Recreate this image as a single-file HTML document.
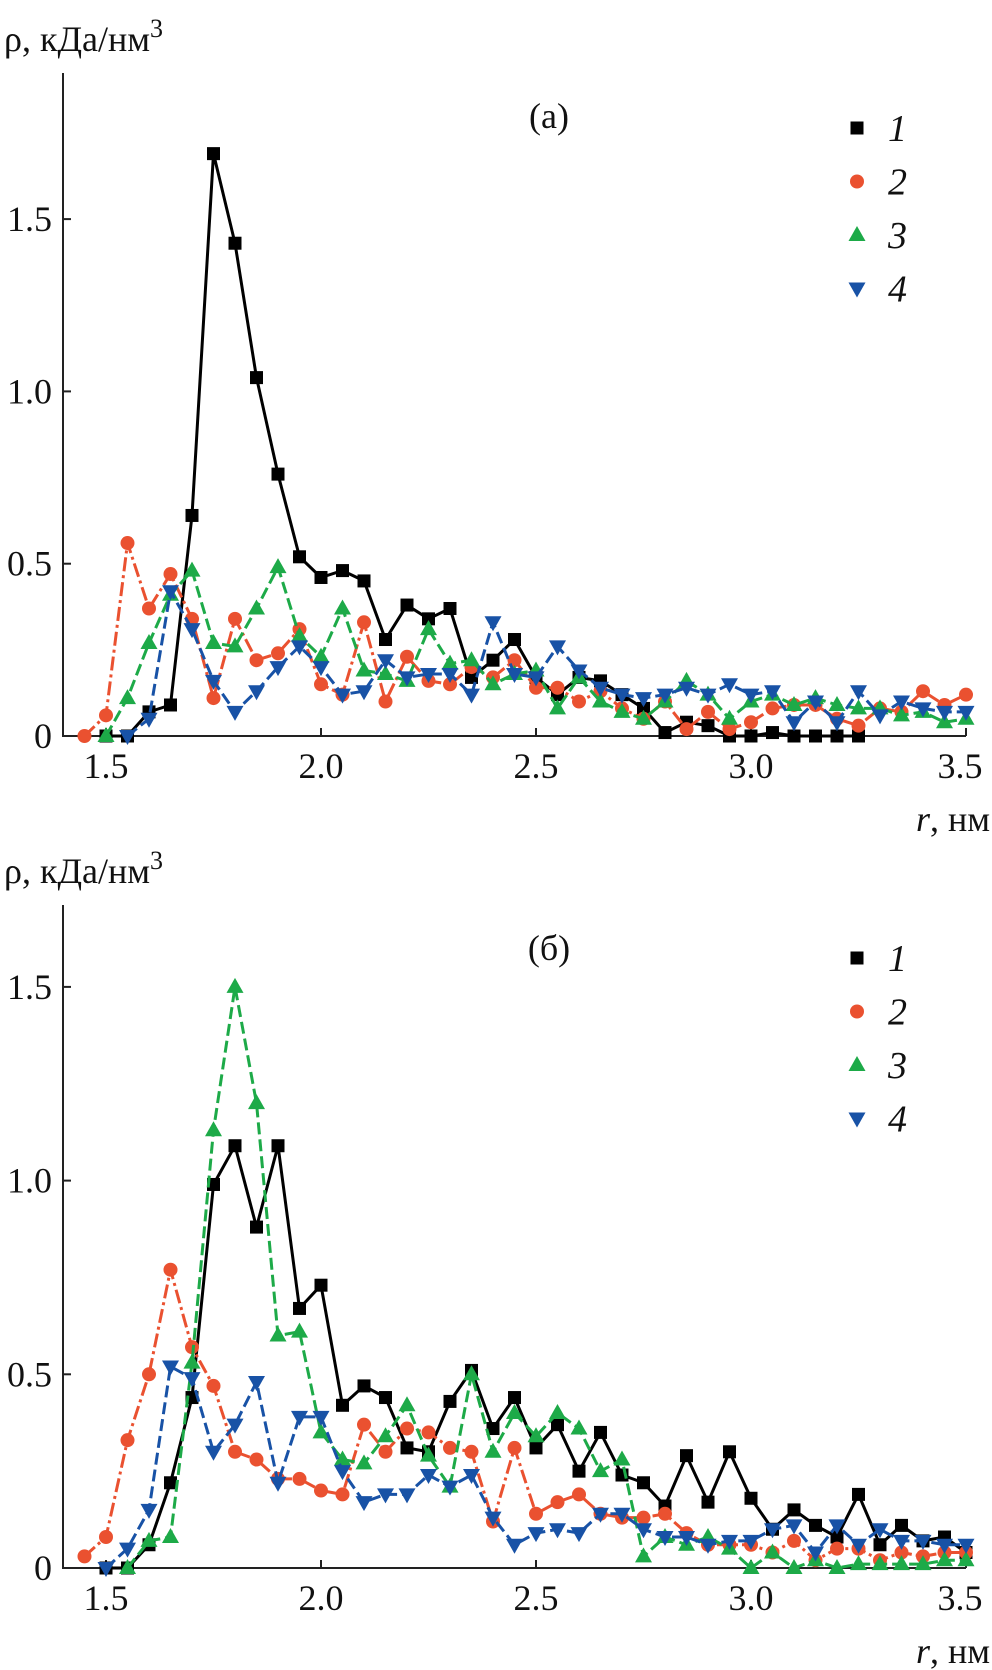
<!DOCTYPE html>
<html><head><meta charset="utf-8"><style>
html,body{margin:0;padding:0;background:#fff}
svg{display:block;font-family:"Liberation Serif","DejaVu Serif",serif}
text{font-family:"Liberation Serif","DejaVu Serif",serif;fill:#111}
</style></head><body>
<svg id="fig" width="992" height="1670" viewBox="0 0 992 1670" font-family="Liberation Serif, DejaVu Serif, serif"></svg>
<script>
const rVals=[1.45,1.5,1.55,1.6,1.65,1.7,1.75,1.8,1.85,1.9,1.95,2.0,2.05,2.1,2.15,2.2,2.25,2.3,2.35,2.4,2.45,2.5,2.55,2.6,2.65,2.7,2.75,2.8,2.85,2.9,2.95,3.0,3.05,3.1,3.15,3.2,3.25,3.3,3.35,3.4,3.45,3.5];
const xTicks=[1.5,2.0,2.5,3.0,3.5];
const xTickLabels=["1.5","2.0","2.5","3.0","3.5"];
const yTicks=[0,0.5,1.0,1.5];
const yTickLabels=["0","0.5","1.0","1.5"];
const seriesNames=["1","2","3","4"];
const a1=[null,0,0,0.07,0.09,0.64,1.69,1.43,1.04,0.76,0.52,0.46,0.48,0.45,0.28,0.38,0.34,0.37,0.17,0.22,0.28,0.17,0.12,0.17,0.16,0.12,0.08,0.01,0.04,0.03,0,0,0.01,0,0,0,0,null,null,null,null,null];
const a2=[0,0.06,0.56,0.37,0.47,0.34,0.11,0.34,0.22,0.24,0.31,0.15,0.12,0.33,0.10,0.23,0.16,0.15,0.20,0.17,0.22,0.14,0.14,0.10,0.13,0.08,0.05,0.10,0.02,0.07,0.02,0.04,0.08,0.09,0.09,0.05,0.03,0.08,0.07,0.13,0.09,0.12];
const a3=[null,0,0.11,0.27,0.41,0.48,0.27,0.26,0.37,0.49,0.29,0.23,0.37,0.19,0.18,0.16,0.31,0.21,0.22,0.15,0.18,0.19,0.08,0.17,0.10,0.07,0.05,0.10,0.16,0.12,0.05,0.10,0.12,0.09,0.11,0.09,0.08,0.08,0.06,0.07,0.04,0.05];
const a4=[null,null,0,0.05,0.42,0.31,0.16,0.07,0.13,0.20,0.26,0.20,0.12,0.13,0.22,0.17,0.18,0.18,0.12,0.33,0.18,0.17,0.26,0.19,0.14,0.12,0.11,0.12,0.14,0.12,0.15,0.12,0.13,0.04,0.10,0.04,0.13,0.06,0.10,0.08,0.07,0.07];
const b1=[null,0,0,0.06,0.22,0.44,0.99,1.09,0.88,1.09,0.67,0.73,0.42,0.47,0.44,0.31,0.30,0.43,0.51,0.36,0.44,0.31,0.37,0.25,0.35,0.24,0.22,0.16,0.29,0.17,0.30,0.18,0.10,0.15,0.11,0.08,0.19,0.06,0.11,0.07,0.08,0.04];
const b2=[0.03,0.08,0.33,0.50,0.77,0.57,0.47,0.30,0.28,0.23,0.23,0.20,0.19,0.37,0.30,0.36,0.35,0.31,0.30,0.12,0.31,0.14,0.17,0.19,0.14,0.13,0.13,0.14,0.09,0.06,0.06,0.06,0.04,0.07,0.02,0.05,0.05,0.02,0.04,0.03,0.04,0.04];
const b3=[null,null,0,0.07,0.08,0.53,1.13,1.50,1.20,0.60,0.61,0.35,0.28,0.27,0.34,0.42,0.29,0.21,0.50,0.30,0.40,0.34,0.40,0.36,0.25,0.28,0.03,0.08,0.06,0.08,0.05,0,0.04,0,0.02,0,0.01,0.01,0.01,0.01,0.02,0.02];
const b4=[null,0,0.05,0.15,0.52,0.49,0.30,0.37,0.48,0.22,0.39,0.39,0.25,0.17,0.19,0.19,0.24,0.21,0.24,0.13,0.06,0.09,0.10,0.09,0.14,0.14,0.10,0.08,0.08,0.06,0.07,0.07,0.10,0.11,0.04,0.11,0.06,0.10,0.07,0.07,0.06,0.06];

const NS="http://www.w3.org/2000/svg";
const svg=document.getElementById('fig');
const colors=["#000000","#ea5130","#1daa48","#1852a6"];
const dashes=["none","14 4 3 4","12 5","12 5"];
const markers=["square","circle","up","down"];
const FF="Liberation Serif, DejaVu Serif, serif";
function mk(tag,attrs,parent){const e=document.createElementNS(NS,tag);for(const k in attrs)e.setAttribute(k,attrs[k]);if(tag==='text')e.setAttribute('font-family',FF);(parent||svg).appendChild(e);return e;}
function marker(g,type,x,y,c){
  let e;
  if(type==="square"){e=mk('rect',{x:x-6.5,y:y-6.5,width:13,height:13,fill:c},g);}
  else if(type==="circle"){e=mk('circle',{cx:x,cy:y,r:7,fill:c},g);}
  else if(type==="up"){e=mk('polygon',{points:`${x},${y-9} ${x-8.5},${y+6} ${x+8.5},${y+6}`,fill:c},g);}
  else {e=mk('polygon',{points:`${x},${y+9} ${x-8.5},${y-6} ${x+8.5},${y-6}`,fill:c},g);}
  
  
}
function panel(p){
  const xs=v=>p.x0+(v-1.5)/0.5*p.dx;
  const ys=v=>p.y0-v/0.5*p.dy;
  const g=mk('g',{});
  
  
  const ax=mk('path',{d:`M63 ${p.top} V${p.y0} H${xs(3.5)}`,stroke:"#222","stroke-width":2,fill:"none"},g);
  
  
  yTicks.forEach((t,i)=>{
    const y=ys(t);
    mk('line',{x1:63,x2:71,y1:y,y2:y,stroke:"#222","stroke-width":2},g);
    const tx=mk('text',{x:52,y:y+12,"font-size":36,"text-anchor":"end"},g);tx.textContent=yTickLabels[i];
    
    
  });
  xTicks.forEach((t,i)=>{
    const x=xs(t);
    mk('line',{x1:x,x2:x,y1:p.y0,y2:p.y0-8,stroke:"#222","stroke-width":2},g);
    const tx=mk('text',{x:i===4?x-6:x,y:p.y0+42,"font-size":36,"text-anchor":"middle"},g);tx.textContent=xTickLabels[i];
    
    
  });
  const yl=mk('text',{x:4,y:p.top-22,"font-size":36},g);
  yl.innerHTML='ρ, кДа/нм<tspan dy="-14" font-size="26">3</tspan>';
  
  
  const xl=mk('text',{x:990,y:p.y0+95,"font-size":36,"text-anchor":"end"},g);
  xl.innerHTML='<tspan font-style="italic">r</tspan>, нм';
  
  
  const pl=mk('text',{x:549,y:p.top+55,"font-size":36,"text-anchor":"middle"},g);
  pl.textContent=p.label;
  
  
  p.series.forEach((s,k)=>{
    const sg=mk('g',{},g);
    
    
    let d="";let pen=false;
    s.forEach((v,i)=>{if(v==null){pen=false;return;}d+=(pen?"L":"M")+xs(rVals[i]).toFixed(1)+" "+ys(v).toFixed(1);pen=true;});
    const ln=mk('path',{d:d,stroke:colors[k],"stroke-width":3,fill:"none","stroke-dasharray":dashes[k],"stroke-linejoin":"round"},sg);
    
    
    s.forEach((v,i)=>{if(v!=null)marker(sg,markers[k],xs(rVals[i]),ys(v),colors[k]);});
  });
  seriesNames.forEach((n,k)=>{
    const lg=mk('g',{},g);
    
    
    const y=p.leg+k*53.5;
    marker(lg,markers[k],857,y,colors[k]);
    const t=mk('text',{x:888,y:y+13,"font-size":38,"font-style":"italic"},lg);t.textContent=n;
  });
}
panel({name:'panel-a',label:'(a)',x0:106,dx:215,y0:736,dy:172.3,top:73,leg:128,series:[a1,a2,a3,a4]});
panel({name:'panel-b',label:'(б)',x0:106,dx:215,y0:1568,dy:193.7,top:905,leg:958,series:[b1,b2,b3,b4]});
</script>
</body></html>
